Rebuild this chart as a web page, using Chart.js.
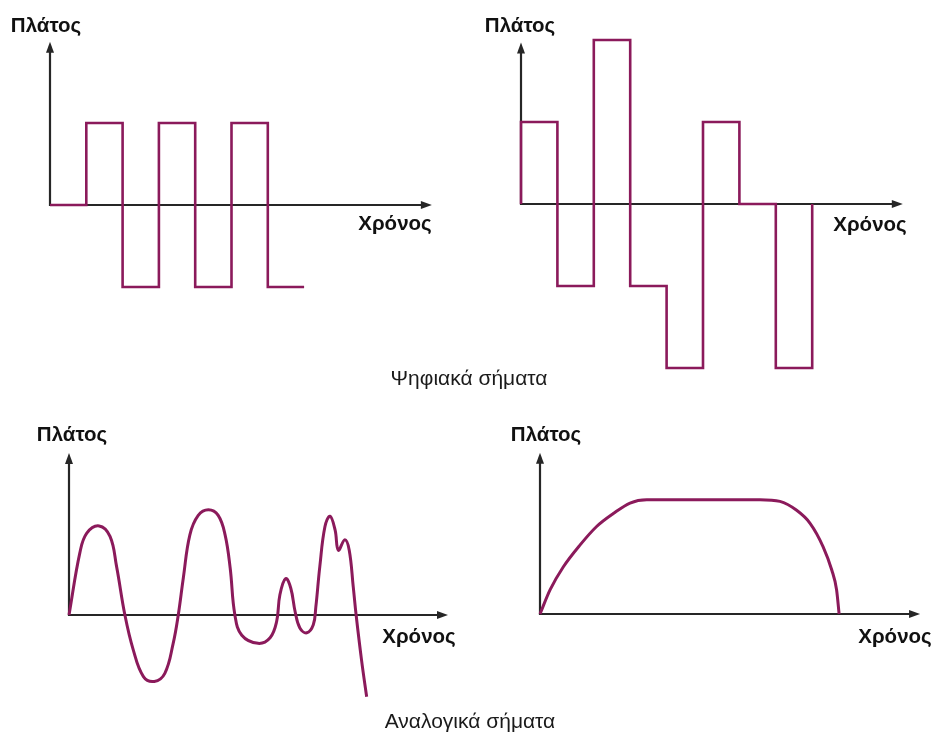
<!DOCTYPE html>
<html>
<head>
<meta charset="utf-8">
<script src="https://cdn.jsdelivr.net/npm/chart.js@4"></script>
<style>
  html, body { margin: 0; padding: 0; background: #ffffff; }
  body { width: 934px; height: 733px; position: relative; overflow: hidden; }
  canvas { position: absolute; }
  .lbl { position: absolute; font-family: "Liberation Sans", Arial, sans-serif; color: #111; white-space: nowrap; transform: translate(-50%, -50%); }
  .b { font-weight: bold; font-size: 20.5px; }
  .cap { font-size: 21px; color: #1a1a1a; }
</style>
</head>
<body>
<canvas id="c1"></canvas>
<canvas id="c2"></canvas>
<canvas id="c3"></canvas>
<canvas id="c4"></canvas>

<div class="lbl b" style="left:46px; top:25px;">Πλάτος</div>
<div class="lbl b" style="left:395px; top:223px;">Χρόνος</div>
<div class="lbl b" style="left:520px; top:25px;">Πλάτος</div>
<div class="lbl b" style="left:870px; top:224px;">Χρόνος</div>
<div class="lbl cap" style="left:469px; top:378px;">Ψηφιακά σήματα</div>
<div class="lbl b" style="left:72px; top:434px;">Πλάτος</div>
<div class="lbl b" style="left:419px; top:636px;">Χρόνος</div>
<div class="lbl b" style="left:546px; top:434px;">Πλάτος</div>
<div class="lbl b" style="left:895px; top:636px;">Χρόνος</div>
<div class="lbl cap" style="left:470px; top:721px;">Αναλογικά σήματα</div>

<script>
// ---------- DATA ----------
// Top-left digital signal (step levels; each level holds from its time to the next)
const digital1Times  = [0, 1, 2, 3, 4, 5, 6, 7];
const digital1Levels = [0, 1, -1, 1, -1, 1, -1, -1];

// Top-right digital signal (multi-level)
const digital2Times  = [0, 0, 1, 2, 3, 4, 5, 6, 7, 8];
const digital2Levels = [0, 1, -1, 2, -1, -2, 1, 0, -2, 0];

// Bottom-left analog signal
const analog1Times  = [0, 0.30, 0.49, 0.83, 1.13, 1.31, 1.54, 1.77, 2.05, 2.35, 2.64, 2.87, 3.01, 3.15, 3.33, 3.56, 3.84, 4.11, 4.30, 4.44, 4.57, 4.76, 5.21, 5.54, 5.72, 5.81, 5.97, 6.11, 6.23, 6.36, 6.55, 6.73, 6.80, 6.91, 7.05, 7.19, 7.33, 7.42, 7.60, 7.72, 7.83, 7.91, 8.06, 8.20];
const analog1Values = [0, 0.77, 1.01, 1.10, 0.97, 0.60, 0, -0.43, -0.76, -0.82, -0.72, -0.35, 0, 0.46, 0.99, 1.23, 1.30, 1.23, 0.99, 0.58, 0, -0.25, -0.35, -0.28, -0.08, 0.25, 0.45, 0.33, 0.04, -0.16, -0.22, -0.12, 0.10, 0.60, 1.09, 1.22, 1.05, 0.80, 0.93, 0.80, 0.35, 0, -0.56, -1.01];

// Bottom-right analog signal
const analog2Times  = [0, 0.28, 0.64, 1.10, 1.56, 2.02, 2.48, 2.94, 6.06, 6.61, 7.07, 7.44, 7.80, 8.04, 8.17, 8.24];
const analog2Values = [0, 0.30, 0.58, 0.85, 1.08, 1.24, 1.37, 1.41, 1.41, 1.39, 1.28, 1.12, 0.83, 0.54, 0.30, 0];

// ---------- LAYOUT ----------
const WAVE_COLOR = '#8B1A5B';
const AXIS_COLOR = '#262626';

const panels = [
  { id: 'c1', box: [30, 30, 420, 355], origin: [50, 205], unit: [36.3, 82], axisEnd: [10.52, 1.99],
    times: digital1Times, values: digital1Levels, mode: 'step' },
  { id: 'c2', box: [500, 25, 420, 355], origin: [521, 204], unit: [36.4, 82], axisEnd: [10.49, 1.97],
    times: digital2Times, values: digital2Levels, mode: 'step' },
  { id: 'c3', box: [50, 440, 420, 275], origin: [69, 615], unit: [36.3, 81], axisEnd: [10.44, 2.0],
    times: analog1Times, values: analog1Values, mode: 'spline' },
  { id: 'c4', box: [520, 440, 410, 200], origin: [540, 614], unit: [36.3, 81], axisEnd: [10.47, 1.99],
    times: analog2Times, values: analog2Values, mode: 'monotone' }
];

const arrowAxes = {
  id: 'arrowAxes',
  beforeDatasetsDraw(chart, args, opts) {
    const { ctx, scales: { x, y } } = chart;
    const x0 = x.getPixelForValue(0), y0 = y.getPixelForValue(0);
    const xe = x.getPixelForValue(opts.end[0]);
    const ye = y.getPixelForValue(opts.end[1]);
    ctx.save();
    ctx.strokeStyle = AXIS_COLOR;
    ctx.fillStyle = AXIS_COLOR;
    ctx.lineWidth = 2.2;
    ctx.beginPath();
    ctx.moveTo(x0, y0); ctx.lineTo(xe - 6, y0);
    ctx.moveTo(x0, y0 + 1); ctx.lineTo(x0, ye + 6);
    ctx.stroke();
    // arrow heads
    ctx.beginPath();
    ctx.moveTo(xe, y0); ctx.lineTo(xe - 11, y0 - 4); ctx.lineTo(xe - 11, y0 + 4); ctx.closePath();
    ctx.fill();
    ctx.beginPath();
    ctx.moveTo(x0, ye); ctx.lineTo(x0 - 4, ye + 11); ctx.lineTo(x0 + 4, ye + 11); ctx.closePath();
    ctx.fill();
    ctx.restore();
  }
};

panels.forEach(p => {
  const cv = document.getElementById(p.id);
  const [L, T, W, H] = p.box;
  cv.style.left = L + 'px';
  cv.style.top = T + 'px';
  cv.width = W; cv.height = H;
  cv.style.width = W + 'px'; cv.style.height = H + 'px';
  const [ox, oy] = p.origin;
  const [ux, uy] = p.unit;
  const xmin = (L - ox) / ux, xmax = (L + W - ox) / ux;
  const ymax = (oy - T) / uy, ymin = (oy - (T + H)) / uy;
  const data = p.times.map((t, i) => ({ x: t, y: p.values[i] }));
  const isStep = p.mode === 'step';
  new Chart(cv, {
    type: 'line',
    data: {
      datasets: [{
        data,
        borderColor: WAVE_COLOR,
        borderWidth: isStep ? 2.6 : 3,
        pointRadius: 0,
        fill: false,
        stepped: isStep,
        cubicInterpolationMode: p.mode === 'monotone' ? 'monotone' : 'default',
        tension: p.mode === 'spline' ? 0.4 : 0,
        borderJoinStyle: isStep ? 'miter' : 'round',
        borderCapStyle: 'butt'
      }]
    },
    options: {
      responsive: false,
      animation: false,
      events: [],
      layout: { padding: 0 },
      scales: {
        x: { type: 'linear', display: false, min: xmin, max: xmax },
        y: { type: 'linear', display: false, min: ymin, max: ymax }
      },
      plugins: {
        legend: { display: false },
        tooltip: { enabled: false },
        arrowAxes: { end: p.axisEnd }
      }
    },
    plugins: [arrowAxes]
  });
});
</script>
</body>
</html>
